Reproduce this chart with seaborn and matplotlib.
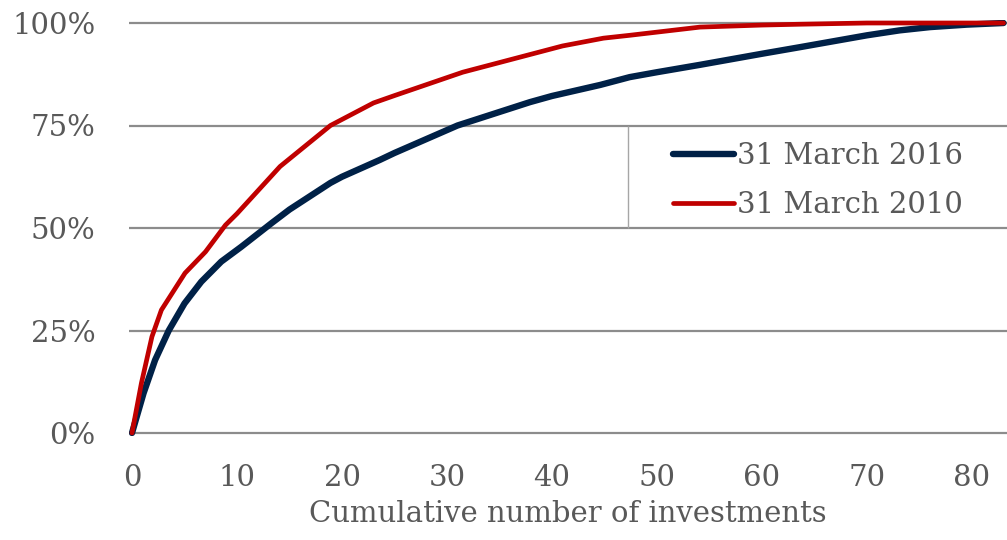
import matplotlib
matplotlib.use("Agg")
import matplotlib.pyplot as plt
import seaborn as sns
import pandas as pd
from matplotlib.ticker import FuncFormatter

# Cumulative share of portfolio value vs. number of investments
x_2016 = [0, 1.1, 2.2, 3.5, 5.0, 6.6, 8.5, 10.4, 13.3, 15, 18.9, 20, 23.6, 25, 31,
          37.9, 40, 44.6, 47.4, 50, 54.1, 60, 63.6, 70, 73.1, 76, 79.5, 83]
y_2016 = [0, 9.7, 17.8, 25, 31.6, 36.9, 41.8, 45.4, 51.2, 54.5, 61, 62.5, 66.6, 68.3, 75,
          80.7, 82.2, 84.9, 86.8, 88, 89.8, 92.5, 94.1, 97, 98.2, 99, 99.6, 100]

x_2010 = [0, 0.9, 1.9, 2.8, 5.05, 7.0, 8.9, 10, 14.1, 18.9, 23, 25, 31.5,
          41, 44.9, 47.4, 54.1, 60, 63.6, 70, 83]
y_2010 = [0, 12.2, 23.5, 30, 39, 44.2, 50.7, 53.5, 65, 75, 80.5, 82.3, 88,
          94.4, 96.3, 97, 99, 99.5, 99.7, 100, 100]

series_labels = ["31 March 2016", "31 March 2010"]
y_ticks = [0, 25, 50, 75, 100]
x_ticks = [0, 10, 20, 30, 40, 50, 60, 70, 80]
x_title = "Cumulative number of investments"

navy = "#002147"
red = "#C00000"
grid_c = "#8c8c8c"
text_c = "#595959"
fs = 21

sns.set_theme(style="white")
plt.rcParams["font.family"] = ["DejaVu Serif"]
plt.rcParams["xtick.major.pad"] = 20
plt.rcParams["ytick.major.pad"] = 24
plt.rcParams["xtick.major.size"] = 0
plt.rcParams["ytick.major.size"] = 0

df16 = pd.DataFrame({"n": x_2016, "share": y_2016})
df10 = pd.DataFrame({"n": x_2010, "share": y_2010})

W, H = 1007, 540
fig = plt.figure(figsize=(W / 100, H / 100), dpi=100)

# axes placement (pixels): x=0 at 132 px, 10.5 px per unit; y 0%..100% from 433 to 23 px
px_per_x = 10.5
px_per_y = 4.1
x0_px = 132
xmin, xmax = -0.3, (W - x0_px) / px_per_x
ymin, ymax = -0.8, 100.8
left = (x0_px + xmin * px_per_x) / W
bottom = (H - (433 + 0.8 * px_per_y)) / H
height = (ymax - ymin) * px_per_y / H
ax = fig.add_axes([left, bottom, 1 - left, height])

sns.lineplot(data=df16, x="n", y="share", ax=ax, color=navy, linewidth=4.6,
             label=series_labels[0], solid_capstyle="round", sort=False)
sns.lineplot(data=df10, x="n", y="share", ax=ax, color=red, linewidth=3.4,
             label=series_labels[1], solid_capstyle="round", sort=False)

ax.set_xlim(xmin, xmax)
ax.set_ylim(ymin, ymax)
ax.set_xticks(x_ticks)
ax.set_yticks(y_ticks)
ax.yaxis.set_major_formatter(FuncFormatter(lambda v, p: f"{v:.0f}%"))
ax.grid(axis="y", color=grid_c, linewidth=1.6)
ax.set_axisbelow(True)
for s in ax.spines.values():
    s.set_visible(False)
ax.tick_params(axis="both", length=0, labelsize=fs, colors=text_c)
ax.tick_params(axis="x", pad=20)
ax.tick_params(axis="y", pad=24)
ax.set_xlabel(x_title, fontsize=fs, color=text_c, labelpad=6)
ax.set_ylabel("")

# legend box edge
ax.vlines(47.2, 50, 75, color="#a6a6a6", linewidth=1.0)

leg = ax.legend(loc="center left", bbox_to_anchor=(673 / W, 1 - 180.5 / H),
                bbox_transform=fig.transFigure, frameon=False, fontsize=fs,
                handlelength=2.1, handletextpad=0.1, labelspacing=0.72,
                borderpad=0, borderaxespad=0)
for t in leg.get_texts():
    t.set_color(text_c)

fig.savefig("out.png", dpi=100)
